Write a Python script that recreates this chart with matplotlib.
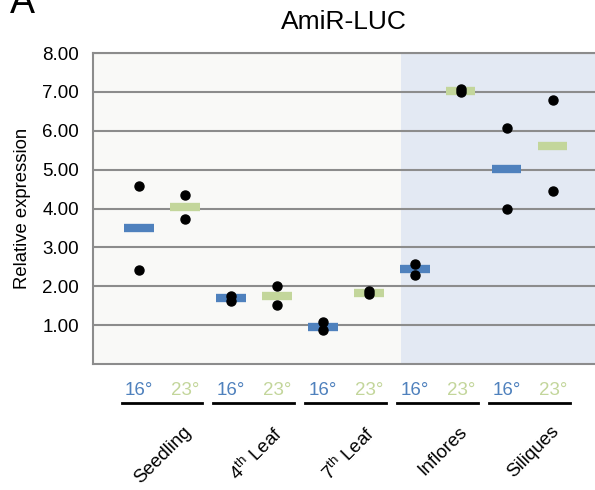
import matplotlib
matplotlib.use('Agg')
import matplotlib.pyplot as plt
import matplotlib.transforms as mtransforms
import numpy as np

plt.rcParams['font.family'] = ['Liberation Sans', 'DejaVu Sans']
plt.rcParams['mathtext.fontset'] = 'custom'
plt.rcParams['mathtext.rm'] = 'Liberation Sans'

# Data
tissues = ['Seedling', r'4$^{\rm th}$ Leaf', r'7$^{\rm th}$ Leaf', 'Inflores', 'Siliques']
temps = ['16°', '23°']
means_16 = [3.50, 1.69, 0.96, 2.44, 5.01]
means_23 = [4.04, 1.76, 1.82, 7.03, 5.62]
reps_16 = [[4.58, 2.41], [1.75, 1.62], [1.07, 0.88], [2.58, 2.30], [6.07, 3.98]]
reps_23 = [[4.36, 3.73], [2.00, 1.52], [1.87, 1.79], [7.07, 6.99], [6.79, 4.44]]
yticks = [1, 2, 3, 4, 5, 6, 7, 8]

c16 = '#4f81bd'
c23 = '#c3d69b'

fig = plt.figure(figsize=(5.95, 4.9), dpi=100)
ax = fig.add_axes([93 / 595, 126 / 490, 502 / 595, 311 / 490])

n = len(tissues)
x16 = np.arange(n) * 2
x23 = x16 + 1

# background shading
ax.set_facecolor('#f9f9f7')
ax.axvspan(5.7, 10, color='#e3e9f3', zorder=0, lw=0)

for y in yticks:
    ax.axhline(y, color='#8c8c8c', lw=1.5, zorder=1)

# means as short thick bars, replicates as dots
hw = 0.32
for i in range(n):
    ax.plot([x16[i] - hw, x16[i] + hw], [means_16[i]] * 2, color=c16, lw=6, solid_capstyle='butt', zorder=2)
    ax.plot([x23[i] - hw, x23[i] + hw], [means_23[i]] * 2, color=c23, lw=6, solid_capstyle='butt', zorder=2)
    ax.plot([x16[i]] * len(reps_16[i]), reps_16[i], 'o', color='black', ms=6.5, zorder=3)
    ax.plot([x23[i]] * len(reps_23[i]), reps_23[i], 'o', color='black', ms=6.5, zorder=3)

ax.set_xlim(-1, 9.92)
ax.set_ylim(0, 8)
ax.set_yticks(yticks)
ax.set_yticklabels(['%.2f' % v for v in yticks], fontsize=13.5)
ax.tick_params(axis='y', length=0, pad=10)
ax.set_xticks([])
for s in ['left', 'bottom', 'top']:
    ax.spines[s].set_color('#8c8c8c')
    ax.spines[s].set_linewidth(1.5)
ax.spines['right'].set_visible(False)

ax.set_ylabel('Relative expression', fontsize=13.3, labelpad=8)
ax.set_title('AmiR-LUC', fontsize=19, pad=17)

# group labels below the axis
trans = mtransforms.blended_transform_factory(ax.transData, ax.transAxes)
for i in range(n):
    ax.text(x16[i], -0.085, temps[0], color=c16, fontsize=13.5, ha='center', va='center', transform=trans)
    ax.text(x23[i], -0.085, temps[1], color=c23, fontsize=13.5, ha='center', va='center', transform=trans)
    ax.plot([x16[i] - 0.38, x23[i] + 0.38], [-0.126, -0.126], color='black', lw=2, transform=trans, clip_on=False)
    ax.text(x16[i] + 0.5 + 0.72, -0.19, tissues[i], fontsize=13.5, rotation=45, ha='right', va='top', transform=trans)

fig.text(10 / 595, 1 - 13 / 490, 'A', fontsize=27, ha='left', va='baseline')

fig.savefig('out.png', dpi=100)
